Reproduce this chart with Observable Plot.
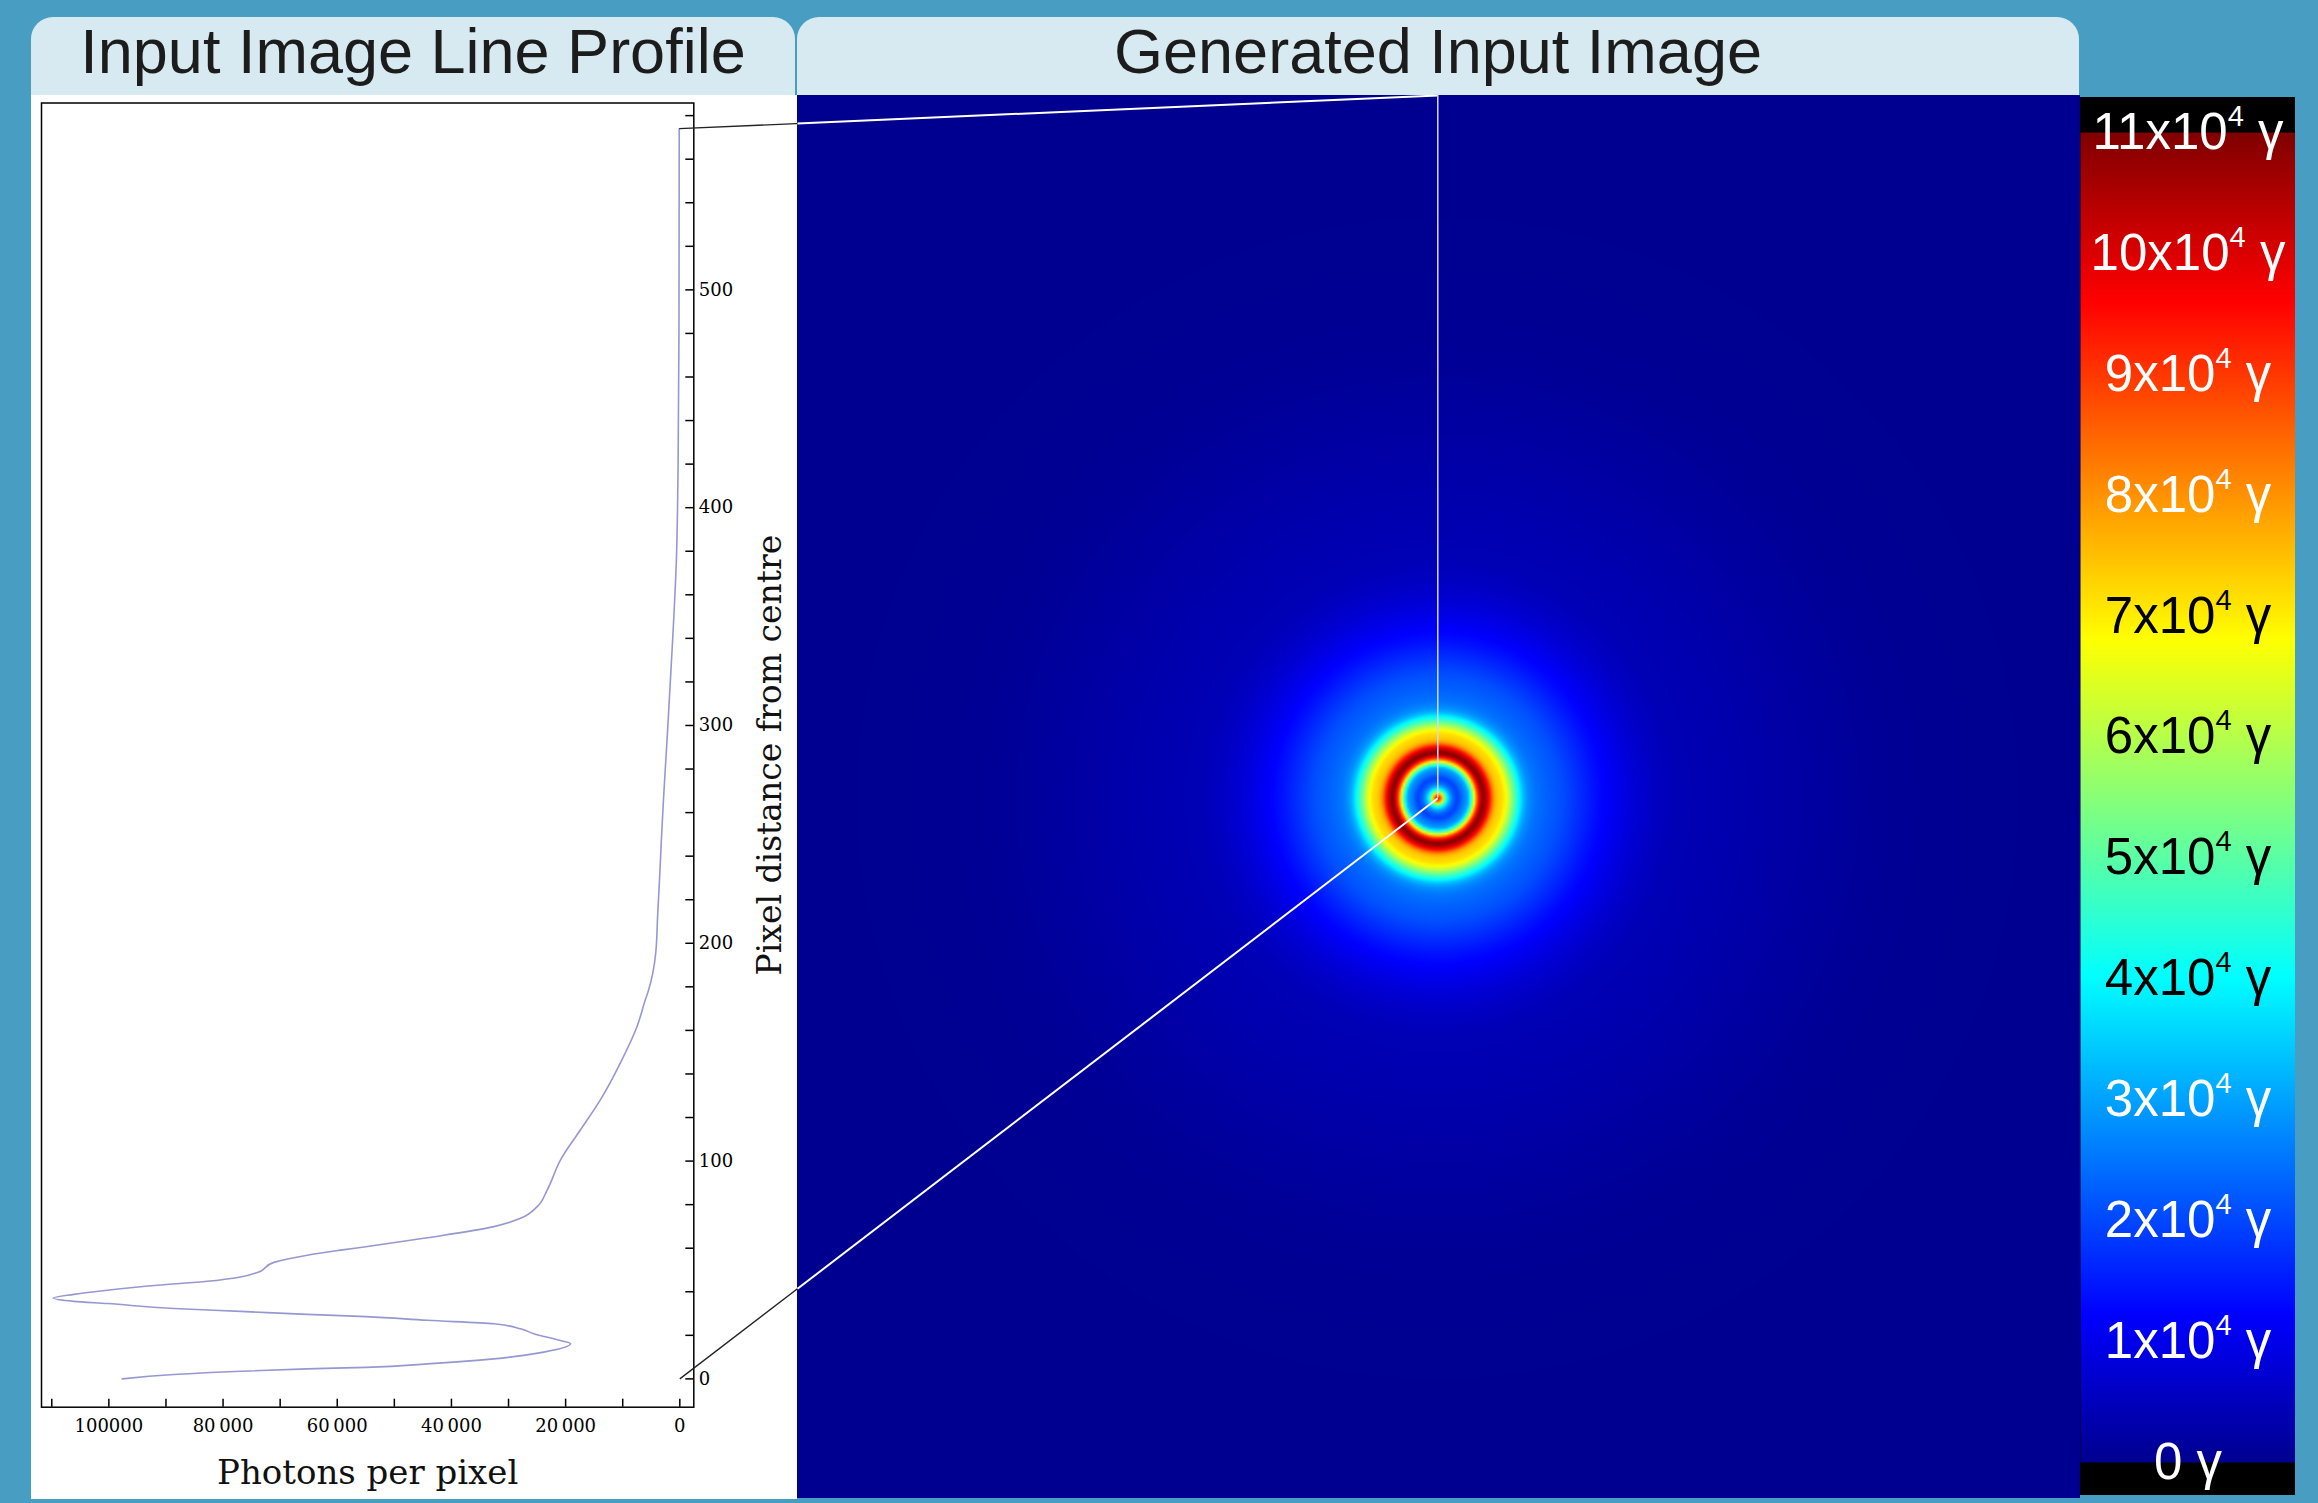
<!DOCTYPE html>
<html><head><meta charset="utf-8">
<script src="https://cdn.jsdelivr.net/npm/d3@7"></script>
<script src="https://cdn.jsdelivr.net/npm/@observablehq/plot@0.6"></script>
<style>
html,body{margin:0;padding:0}
body{width:2318px;height:1503px;background:#479dc2;position:relative;overflow:hidden;font-family:"Liberation Sans",Arial,sans-serif}
.tab{position:absolute;background:#d8eaf1;border-radius:22px 22px 0 0;color:#1c1c1c;font-size:63px;text-align:center;line-height:68px;height:78px}
.box{position:absolute}
.box svg{display:block}
</style></head><body>
<div class="tab" style="left:31px;top:17px;width:764px">Input Image Line Profile</div>
<div class="tab" style="left:797px;top:17px;width:1282px">Generated Input Image</div>
<div class="box" id="profile" style="left:31px;top:95px;width:766px;height:1404px;background:#fff"></div>
<div class="box" id="image" style="left:797px;top:95px"></div>
<div class="box" id="cbar" style="left:2080px;top:97px"></div>
<div class="box" id="overlay" style="left:0;top:0;pointer-events:none"></div>
<script>
// ---- Line profile data (pixel distance from centre vs photons per pixel) ----
const distance = [0, 2.0, 3.5, 4.6, 5.3, 6.9, 9.2, 12.3, 16.1, 17.6, 20.7, 23, 25.3, 26.9, 28.6, 29.6, 31, 32.3, 34.6, 35.6, 37.1, 38.8, 40.7, 43, 44.8, 46.8, 48.8, 53.5, 56.8, 59.1, 60.7, 64.8, 69.9, 73.7, 79.1, 86.8, 100.6, 114.4, 128.2, 145.2, 162, 174.3, 178, 196, 213.5, 231, 249, 266.5, 295, 342, 376, 420, 480, 574];
const photons = [97650, 88600, 76900, 65250, 55000, 44240, 32570, 23820, 19140, 20900, 25570, 27900, 32570, 44240, 55000, 65250, 76930, 88600, 100280, 106130, 109740, 106130, 100280, 91530, 82770, 76930, 74010, 71100, 65250, 59420, 55000, 44240, 32570, 27900, 24970, 23220, 20890, 17390, 13890, 10380, 7460, 6010, 5530, 4200, 3870, 3520, 3200, 2850, 2200, 1200, 600, 300, 150, 100];

// ---- Axis ticks / labels ----
const xMinorTicks = [0, 10000, 20000, 30000, 40000, 50000, 60000, 70000, 80000, 90000, 100000, 110000];
const xLabelVals = [0, 20000, 40000, 60000, 80000, 100000];
const xLabels = ["0", "20\u2009000", "40\u2009000", "60\u2009000", "80\u2009000", "100000"];
const yMinorTicks = [0,20,40,60,80,100,120,140,160,180,200,220,240,260,280,300,320,340,360,380,400,420,440,460,480,500,520,540,560,580];
const yLabelVals = [0, 100, 200, 300, 400, 500];
const xDomain = [111800, -2450];
const yDomain = [-13, 585.8];

// ---- Image extent (in pixel-distance units) ----
const imgX = [-523, 525];
const imgY = [-572, 574];

// ---- Colour bar ----
const cbVals = [0, 10000, 20000, 30000, 40000, 50000, 60000, 70000, 80000, 90000, 100000, 110000];
const cbLabels = ["0 γ", "1x10⁴ γ", "2x10⁴ γ", "3x10⁴ γ", "4x10⁴ γ", "5x10⁴ γ", "6x10⁴ γ", "7x10⁴ γ", "8x10⁴ γ", "9x10⁴ γ", "10x10⁴ γ", "11x10⁴ γ"];
const cbDark = [false, false, false, false, true, true, true, true, false, false, false, false];
const cbDomain = [-2730, 112900];
const jetStops = [0, 0.111, 0.365, 0.619, 0.873, 1];
const jetColors = ["#00008f", "#0000ff", "#00ffff", "#ffff00", "#ff0000", "#800000"];
const cMax = 110000;

const colorOpts = {type: "linear", domain: jetStops.map(t => t * cMax), range: jetColors, interpolate: "rgb", clamp: true};

const profile = distance.map((d, i) => ({d, v: photons[i]}));
function profileAt(r) {
  if (r <= distance[0]) return photons[0];
  const n = distance.length;
  if (r >= distance[n - 1]) return photons[n - 1];
  let lo = 0, hi = n - 1;
  while (hi - lo > 1) { const m = (lo + hi) >> 1; if (distance[m] <= r) lo = m; else hi = m; }
  const t = (r - distance[lo]) / (distance[hi] - distance[lo]);
  return photons[lo] + t * (photons[hi] - photons[lo]);
}

// ---- Profile plot ----
const W1 = 766, H1 = 1404, mL = 10, mT = 7.5, mR = 103.7, mB = 92.3;
const plotW = W1 - mL - mR, plotH = H1 - mT - mB;
const serif = "DejaVu Serif";
const prof = Plot.plot({
  width: W1, height: H1, marginLeft: mL, marginTop: mT, marginRight: mR, marginBottom: mB,
  x: {domain: xDomain},
  y: {domain: yDomain},
  style: {background: "white", color: "black", fontFamily: serif, fontSize: "18px"},
  marks: [
    Plot.ruleX(xMinorTicks, {x: d => d, insetTop: plotH - 8, stroke: "#000", strokeWidth: 1.5}),
    Plot.ruleY(yMinorTicks, {y: d => d, insetLeft: plotW - 8, stroke: "#000", strokeWidth: 1.5}),
    Plot.axisX(xLabelVals, {anchor: "bottom", tickSize: 0, tickPadding: 12, label: null,
      tickFormat: d => xLabels[xLabelVals.indexOf(d)], fontSize: 18, fontFamily: serif}),
    Plot.axisY(yLabelVals, {anchor: "right", tickSize: 0, tickPadding: 5, label: null,
      tickFormat: d => String(d), fontSize: 18, fontFamily: serif}),
    Plot.line(profile, {x: "v", y: "d", curve: "monotone-y", stroke: "#9797d2", strokeWidth: 1.6}),
    Plot.frame({stroke: "#000", strokeWidth: 1.5}),
    Plot.text(["Photons per pixel"], {frameAnchor: "bottom", dy: 66, lineAnchor: "middle", textAnchor: "middle", fontSize: 34, fontFamily: serif, fill: "#111"}),
    Plot.text(["Pixel distance from centre"], {frameAnchor: "right", dx: 77, rotate: -90, lineAnchor: "middle", textAnchor: "middle", fontSize: 33, fontFamily: serif, fill: "#111"})
  ]
});
document.getElementById("profile").appendChild(prof);

// ---- Image plot ----
const W2 = 1283, H2 = 1403;
const img = Plot.plot({
  width: W2, height: H2, margin: 0,
  x: {domain: imgX, axis: null},
  y: {domain: imgY, axis: null},
  color: colorOpts,
  style: {background: "#00008f"},
  marks: [
    Plot.raster({fill: (x, y) => profileAt(Math.hypot(x, y)), x1: imgX[0], x2: imgX[1], y1: imgY[0], y2: imgY[1],
      width: 642, height: 702, imageRendering: "auto"}),
    Plot.ruleX([0], {x: d => d, y1: 0, y2: distance[distance.length - 1], stroke: "#d6d6ff", strokeWidth: 1.5})
  ]
});
document.getElementById("image").appendChild(img);

// ---- Colour bar ----
const cb = Plot.plot({
  width: 215, height: 1398, margin: 0,
  x: {domain: [0, 1], axis: null},
  y: {domain: cbDomain, axis: null},
  color: colorOpts,
  style: {background: "#000", fontFamily: "Liberation Sans"},
  marks: [
    Plot.raster({fill: (x, y) => y, x1: 0, x2: 1, y1: 0, y2: cMax, width: 2, height: 1330, imageRendering: "auto"}),
    Plot.text(cbVals.filter((v, i) => !cbDark[i]), {y: d => d, x: 0.5, text: d => cbLabels[cbVals.indexOf(d)], fill: "white", fontSize: 51, fontFamily: "Liberation Sans"}),
    Plot.text(cbVals.filter((v, i) => cbDark[i]), {y: d => d, x: 0.5, text: d => cbLabels[cbVals.indexOf(d)], fill: "black", fontSize: 51, fontFamily: "Liberation Sans"})
  ]
});
// render the exponent as a raised, smaller tspan
const NS = "http://www.w3.org/2000/svg";
cb.querySelectorAll("text").forEach(t => {
  const s = t.textContent;
  if (!s.includes("⁴")) return;
  const [a, b] = s.split("⁴");
  while (t.firstChild) t.removeChild(t.firstChild);
  t.appendChild(document.createTextNode(a));
  const sup = document.createElementNS(NS, "tspan");
  sup.setAttribute("font-size", "29");
  sup.setAttribute("dy", "-23");
  sup.textContent = "4";
  t.appendChild(sup);
  const rest = document.createElementNS(NS, "tspan");
  rest.setAttribute("dy", "23");
  rest.textContent = b;
  t.appendChild(rest);
});
document.getElementById("cbar").appendChild(cb);

// ---- Connector lines (positions derived from both plots' scales) ----
const px = prof.scale("x"), py = prof.scale("y"), ix = img.scale("x"), iy = img.scale("y");
const P = (v, d) => [31 + px.apply(v), 95 + py.apply(d)];
const I = (x, y) => [797 + ix.apply(x), 95 + iy.apply(y)];
const dTop = distance[distance.length - 1];
const segs = [
  [P(photons[photons.length - 1], dTop), I(0, dTop)],
  [P(0, 0), I(0, 0)]
];
const edge = 797;
const dark = segs.map(([a, b]) => ({x1: a[0], y1: a[1], x2: b[0], y2: b[1]}));
const light = segs.map(([a, b]) => {
  const t = (edge - a[0]) / (b[0] - a[0]);
  return {x1: edge, y1: a[1] + t * (b[1] - a[1]), x2: b[0], y2: b[1]};
});
const ov = Plot.plot({
  width: 2318, height: 1503, margin: 0,
  x: {type: "identity"}, y: {type: "identity"},
  style: {background: "transparent"},
  marks: [
    Plot.link(dark, {x1: "x1", y1: "y1", x2: "x2", y2: "y2", stroke: "#222", strokeWidth: 1.3}),
    Plot.link(light, {x1: "x1", y1: "y1", x2: "x2", y2: "y2", stroke: "#ffffff", strokeWidth: 2})
  ]
});
document.getElementById("overlay").appendChild(ov);
</script>
</body></html>
